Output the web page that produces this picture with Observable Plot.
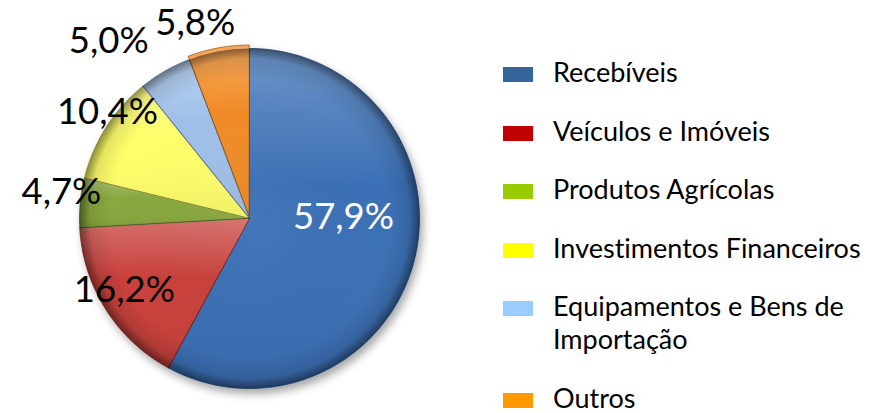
<!DOCTYPE html>
<html>
<head>
<meta charset="utf-8">
<script src="https://cdn.jsdelivr.net/npm/d3@7"></script>
<script src="https://cdn.jsdelivr.net/npm/@observablehq/plot@0.6"></script>
<style>
  html, body { margin: 0; padding: 0; background: #fff; overflow: hidden; }
  #wrap { position: relative; width: 875px; height: 413px; overflow: hidden; font-family: Lato, "Open Sans", sans-serif; font-variant-ligatures: none; }
  #chart { position: absolute; left: 0; top: 0; }
  #chart text { font-variant-ligatures: none; }
  #legend { position: absolute; left: 503px; top: 55px; display: flex; flex-direction: column; gap: 25.6px; }
  .item { display: flex; align-items: flex-start; }
  .sw { width: 30px; height: 15px; margin-top: 12px; flex: none; }
  .lab { margin-left: 20px; font-size: 27px; line-height: 33px; color: #000; width: 320px; }
</style>
</head>
<body>
<div id="wrap">
  <div id="chart"></div>
  <div id="legend"></div>
</div>
<script>
// ---- data ----
const categories = ["Recebíveis", "Veículos e Imóveis", "Produtos Agrícolas", "Investimentos Financeiros", "Equipamentos e Bens de Importação", "Outros"];
const shares = [57.9, 16.2, 4.7, 10.4, 5.0, 5.8];
const shareLabels = ["57,9%", "16,2%", "4,7%", "10,4%", "5,0%", "5,8%"];
const legendColors = ["#336699", "#C00000", "#99CC00", "#FFFF00", "#99CCFF", "#FF9900"];
const sliceColors = ["#3b70b6", "#c93f3b", "#89a83e", "#ffff6a", "#a0c0ea", "#f28c26"];

// ---- layout (not data) ----
const cx = 249, cy = 218, R = 170;
const explode = {"Outros": 0.02};
const labelLayout = {
  "Recebíveis": {radius: 0.553, turn: -14.8},
  "Veículos e Imóveis": {radius: 0.849, turn: 2.5},
  "Produtos Agrícolas": {radius: 1.117, turn: 2.7},
  "Investimentos Financeiros": {radius: 1.042, turn: 4.3},
  "Equipamentos e Bens de Importação": {radius: 1.331, turn: -8.6},
  "Outros": {radius: 1.19, turn: -5.1}
};

const table = categories.map((c, i) => ({category: c, share: shares[i], label: shareLabels[i]}));
const arcs = d3.pie().sort(null).value(d => d.share)(table);

const polygons = [];
const labelPts = [];
for (const a of arcs) {
  const c = a.data.category;
  const mid = (a.startAngle + a.endAngle) / 2;
  const e = explode[c] || 0;
  const ox = e * Math.sin(mid), oy = e * Math.cos(mid);
  polygons.push({category: c, x: ox, y: oy});
  const n = Math.max(8, Math.ceil((a.endAngle - a.startAngle) / 0.01));
  for (let k = 0; k <= n; ++k) {
    const t = a.startAngle + (a.endAngle - a.startAngle) * k / n;
    polygons.push({category: c, x: ox + Math.sin(t), y: oy + Math.cos(t)});
  }
  const L = labelLayout[c];
  const m = mid + L.turn * Math.PI / 180;
  labelPts.push({category: c, label: a.data.label, x: L.radius * Math.sin(m), y: L.radius * Math.cos(m)});
}

function defs() {
  const d = d3.create("svg:defs");
  const rim = d.append("radialGradient").attr("id", "rim");
  [[0, "rgba(255,255,255,0.04)"], [0.82, "rgba(0,0,0,0)"], [0.94, "rgba(0,0,0,0.10)"], [1, "rgba(0,0,0,0.45)"]]
    .forEach(([o, c]) => rim.append("stop").attr("offset", o).attr("stop-color", c));
  const lin = d.append("linearGradient").attr("id", "shine").attr("x1", 0).attr("y1", 0).attr("x2", 0).attr("y2", 1);
  [[0, "rgba(255,255,255,0.25)"], [0.4, "rgba(255,255,255,0)"], [1, "rgba(0,0,0,0.06)"]]
    .forEach(([o, c]) => lin.append("stop").attr("offset", o).attr("stop-color", c));
  const f = d.append("filter").attr("id", "shadow").attr("x", "-20%").attr("y", "-20%").attr("width", "140%").attr("height", "140%");
  f.append("feDropShadow").attr("dx", 3).attr("dy", 5).attr("stdDeviation", 4).attr("flood-color", "#000").attr("flood-opacity", 0.35);
  return d.node();
}

const font = "Lato, 'Open Sans', sans-serif";
const plot = Plot.plot({
  width: 875,
  height: 413,
  margin: 0,
  x: {domain: [-1, 1], range: [cx - R, cx + R], axis: null},
  y: {domain: [-1, 1], range: [cy + R, cy - R], axis: null},
  color: {domain: categories, range: sliceColors},
  style: {background: "transparent", overflow: "visible"},
  marks: [
    defs,
    Plot.line(polygons, {x: "x", y: "y", z: "category", fill: "category", stroke: "category", strokeWidth: 0.8, curve: "linear-closed"}),
    Plot.line(polygons, {x: "x", y: "y", z: "category", fill: "url(#shine)", stroke: "rgba(0,0,0,0.28)", strokeWidth: 1, curve: "linear-closed"}),
    Plot.dot([{x: 0, y: 0}], {x: "x", y: "y", r: R, fill: "url(#rim)", stroke: "none"}),
    Plot.text(labelPts.filter(d => d.category === categories[0]), {x: "x", y: "y", text: "label", fill: "white", fontSize: 36.5, fontFamily: font}),
    Plot.text(labelPts.filter(d => d.category !== categories[0]), {x: "x", y: "y", text: "label", fill: "black", fontSize: 36.5, fontFamily: font})
  ]
});
d3.select(plot).selectAll('g[aria-label="line"]').filter((d, i) => i === 0).attr("filter", "url(#shadow)");
document.getElementById("chart").appendChild(plot);

// ---- legend ----
const legend = d3.select("#legend");
categories.forEach((c, i) => {
  const it = legend.append("div").attr("class", "item");
  it.append("div").attr("class", "sw").style("background", legendColors[i]);
  it.append("div").attr("class", "lab").text(c);
});
</script>
</body>
</html>
